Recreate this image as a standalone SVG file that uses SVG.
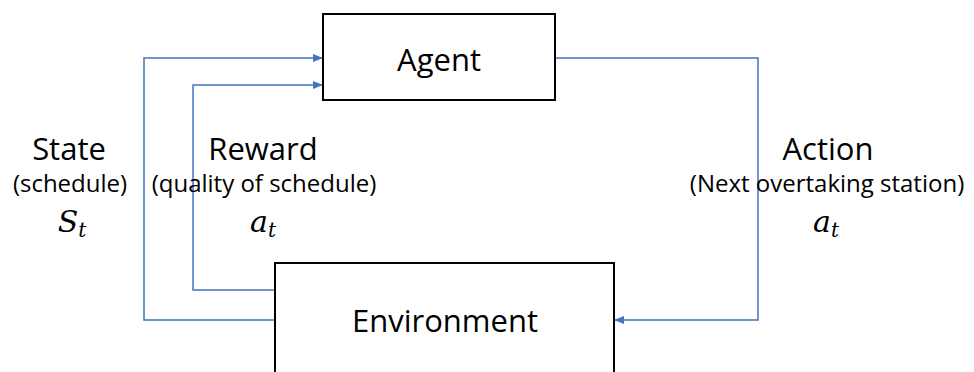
<svg xmlns="http://www.w3.org/2000/svg" width="974" height="372" viewBox="0 0 974 372">
<style>
.box{fill:#fff;stroke:#000;stroke-width:2}
.lbl{font-family:"Open Sans","Noto Sans",sans-serif;fill:#000;text-anchor:middle}
.big{font-size:31px}
.sm{font-size:24px}
.math{font-family:"DejaVu Serif","Liberation Serif",serif;font-style:italic;font-size:30px;text-anchor:middle;fill:#000}
.sub{font-size:20px}
.conn{fill:none;stroke:#4472C4;stroke-width:1.5}
</style>
<defs>
<marker id="ah" markerWidth="10" markerHeight="8" refX="9" refY="4" orient="auto" markerUnits="userSpaceOnUse">
<path d="M0,0 L10,4 L0,8 z" fill="#4472C4"/>
</marker>
</defs>
<rect width="974" height="372" fill="#fff"/>
<g id="connectors">
<path class="conn" d="M275,320 H144 V58 H322" marker-end="url(#ah)"/>
<path class="conn" d="M275,290 H193 V85 H322" marker-end="url(#ah)"/>
<path class="conn" d="M555,58 H758 V320 H615" marker-end="url(#ah)"/>
</g>
<g id="agent">
<rect class="box" x="323" y="14" width="232" height="86"/>
<text class="lbl big" x="439" y="71">Agent</text>
</g>
<g id="environment">
<rect class="box" x="275" y="263" width="339" height="120"/>
<text class="lbl big" x="445" y="332">Environment</text>
</g>
<g id="state">
<text class="lbl big" x="69" y="160">State</text>
<text class="lbl sm" x="70" y="192">(schedule)</text>
<text class="math" x="72" y="232">S<tspan class="sub" dy="5">t</tspan></text>
</g>
<g id="reward">
<text class="lbl big" x="263" y="160">Reward</text>
<text class="lbl sm" x="264" y="192">(quality of schedule)</text>
<text class="math" x="263" y="232">a<tspan class="sub" dy="5">t</tspan></text>
</g>
<g id="action">
<text class="lbl big" x="828" y="160">Action</text>
<text class="lbl sm" x="827" y="192">(Next overtaking station)</text>
<text class="math" x="826" y="232">a<tspan class="sub" dy="5">t</tspan></text>
</g>
</svg>
